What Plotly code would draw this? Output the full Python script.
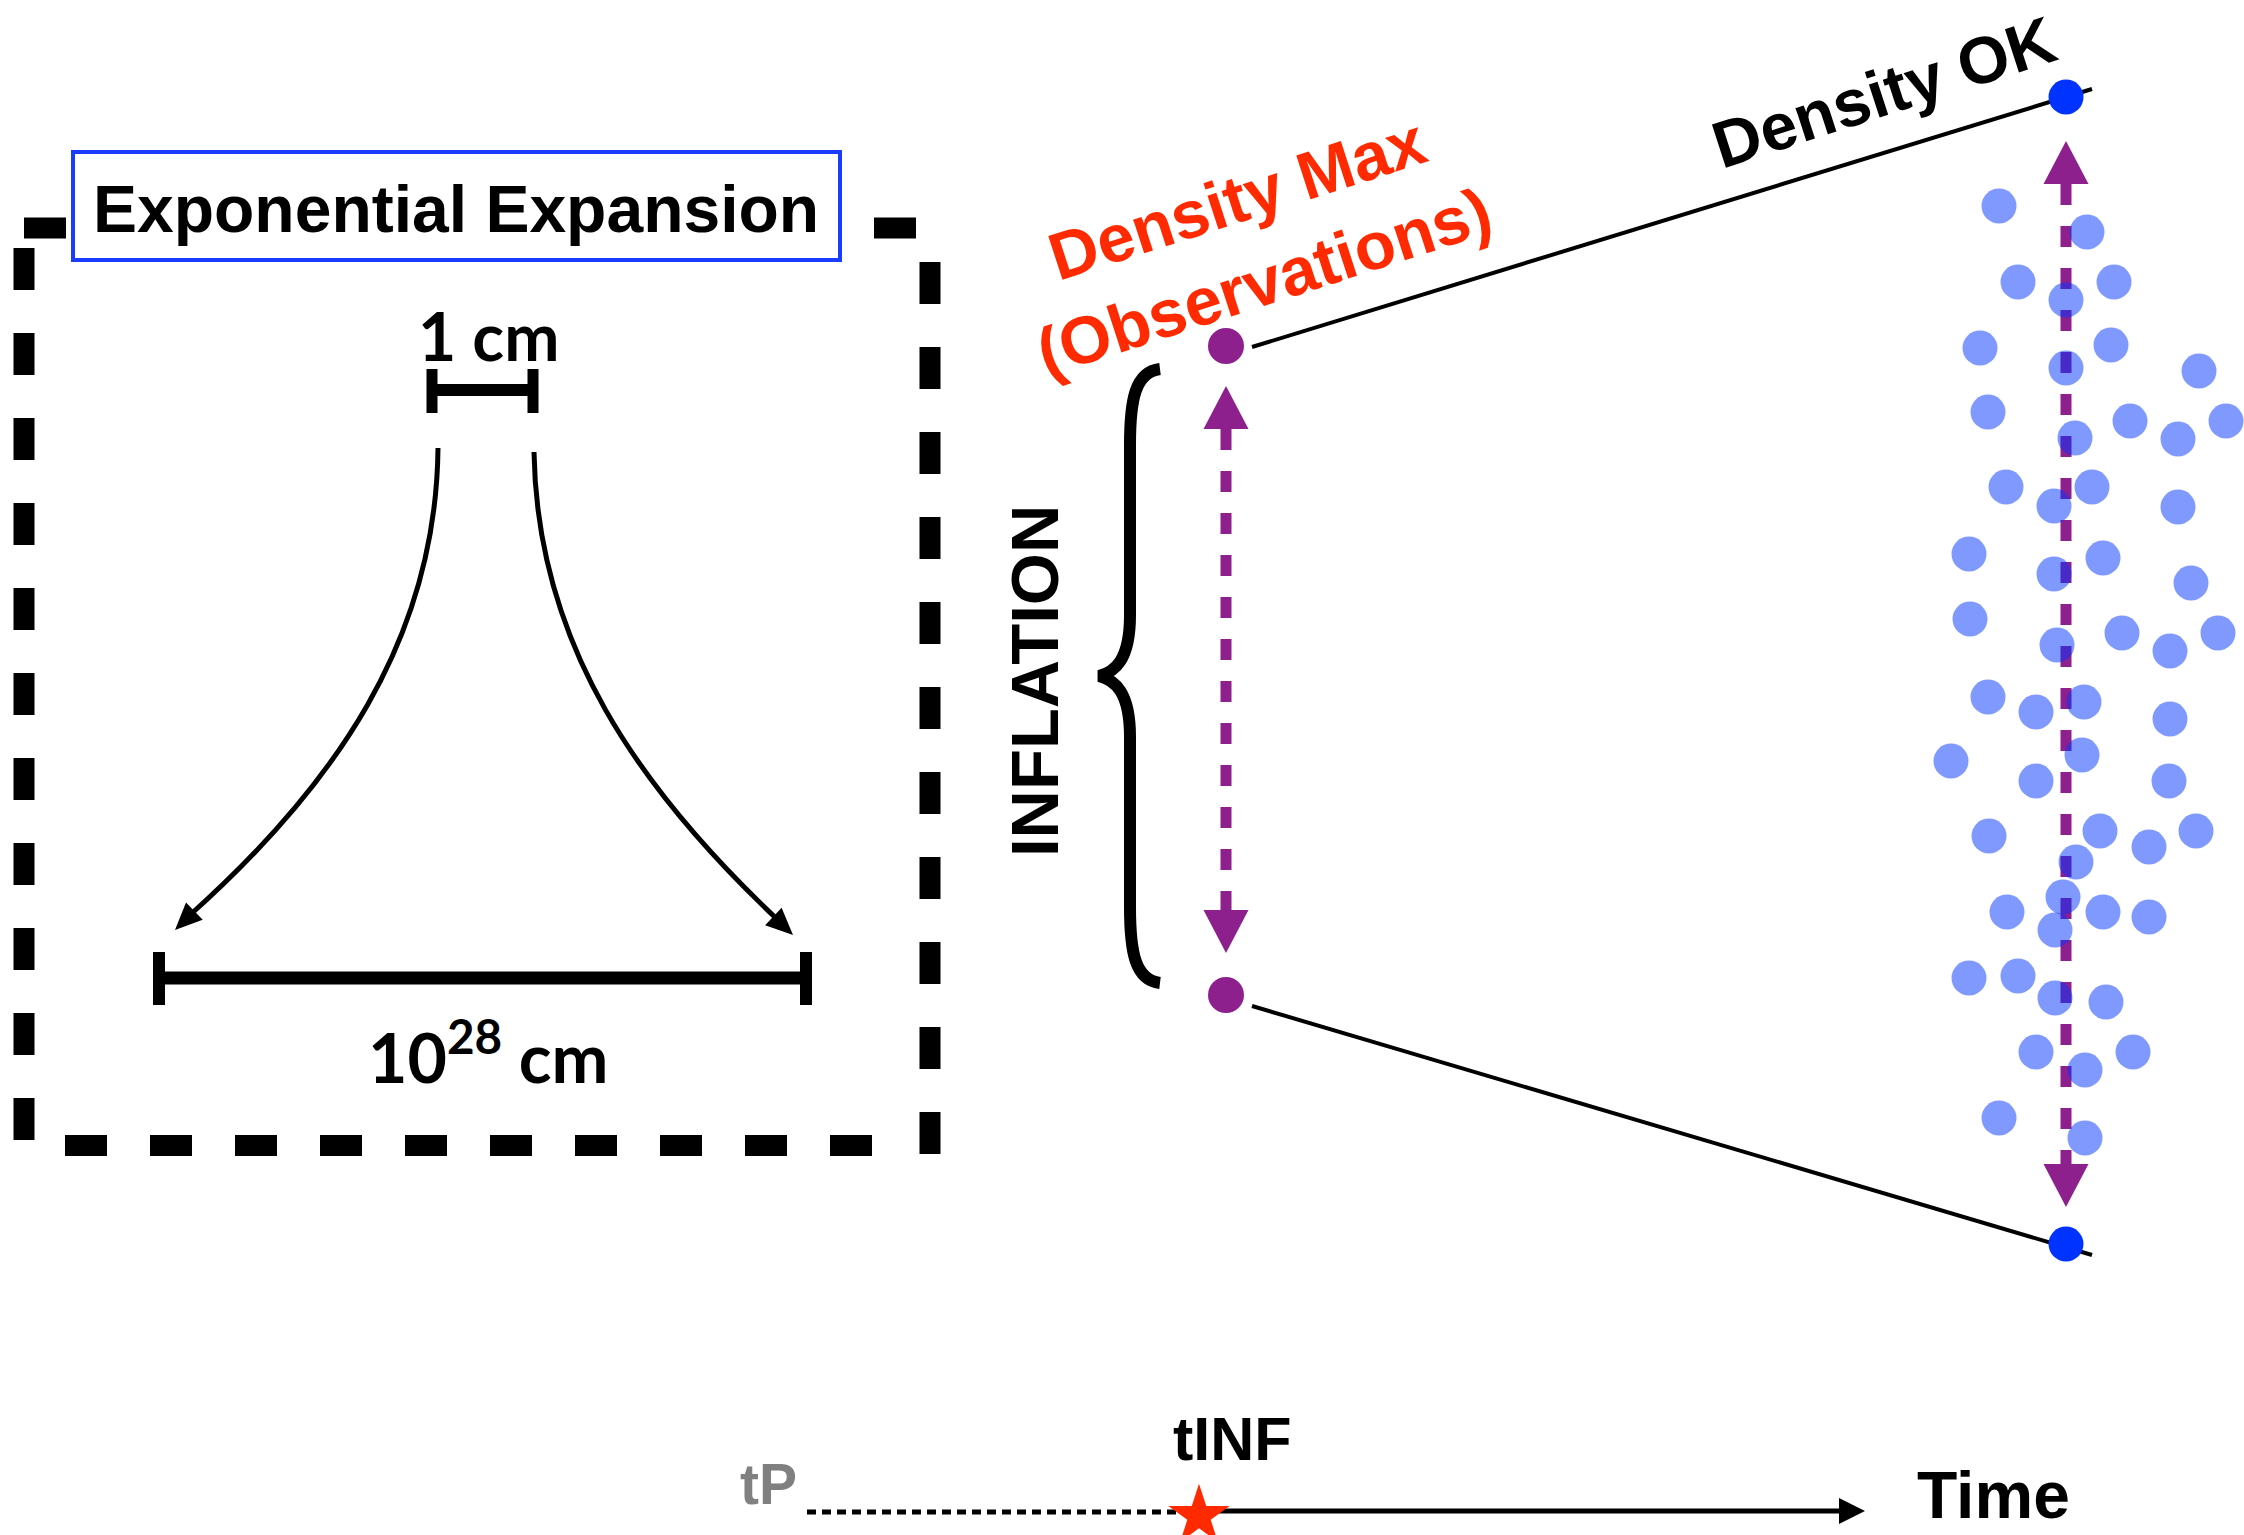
import plotly.graph_objects as go

W, H = 2244, 1535

# ---- data: light-blue cloud of "regions" (pixel-space diagram coordinates) ----
cloud_x = [1999, 2087, 2018, 2114, 2066, 1980, 2111, 2066, 2199, 1988,
           2130, 2075, 2178, 2226, 2006, 2092, 2054, 2178, 1969, 2103,
           2054, 2191, 1970, 2122, 2218, 2057, 2170, 1988, 2036, 2084,
           2170, 1951, 2082, 2036, 2169, 1989, 2100, 2149, 2196, 2076,
           2063, 2007, 2103, 2149, 2055, 1969, 2018, 2055, 2106, 2036,
           2133, 2085, 1999, 2085]
cloud_y = [206, 232, 282, 282, 300, 348, 345, 368, 371, 412,
           421, 438, 439, 421, 487, 487, 506, 507, 554, 558,
           574, 583, 619, 633, 633, 645, 651, 697, 712, 702,
           719, 761, 755, 781, 781, 836, 831, 847, 831, 862,
           897, 912, 912, 917, 930, 978, 976, 998, 1002, 1052,
           1052, 1070, 1118, 1138]

# density endpoints
obs_x = [1226, 1226]          # Density Max (observations) - purple
obs_y = [346, 995]
ok_x = [2066, 2066]           # Density OK - blue
ok_y = [97, 1244]

# cone lines
cone_top = [(1252, 347), (2092, 89)]
cone_bot = [(1252, 1006), (2092, 1255)]

# time axis
t_start, t_inf, t_end, t_y = 807, 1199, 1865, 1511

PURPLE = '#8e208e'
BLUE = '#0033ff'
RED = '#ff2a00'


def tri(tip, d, length, half):
    import math
    n = math.hypot(d[0], d[1])
    ux, uy = d[0] / n, d[1] / n
    bx, by = tip[0] - ux * length, tip[1] - uy * length
    px, py = -uy, ux
    return (f"M{tip[0]},{tip[1]} L{bx + px * half},{by + py * half} "
            f"L{bx - px * half},{by - py * half} Z")


shapes = []


def line(x0, y0, x1, y1, w, color='black', dash=None):
    ln = dict(color=color, width=w)
    if dash:
        ln['dash'] = dash
    shapes.append(dict(type='line', x0=x0, y0=y0, x1=x1, y1=y1,
                       xref='x', yref='y', line=ln, layer='below'))


def path(p, w=0, color='black', fill=None):
    d = dict(type='path', path=p, xref='x', yref='y', layer='below',
             line=dict(color=color, width=w))
    if fill:
        d['fillcolor'] = fill
    shapes.append(d)


# dashed box
BOXDASH = '42px,43px'
line(24, 228, 941, 228, 21, dash=BOXDASH)
line(24, 248, 24, 1150, 21, dash=BOXDASH)
line(930, 262, 930, 1157, 21, dash=BOXDASH)
line(65, 1145.5, 880, 1145.5, 21, dash=BOXDASH)

# blue title box
shapes.append(dict(type='rect', x0=73, y0=152, x1=840, y1=260, xref='x', yref='y',
                   line=dict(color='#1a3cff', width=4), fillcolor='white', layer='below'))

# 1 cm bar
line(432, 390, 533, 390, 12)
line(432, 369, 432, 413, 11)
line(533, 369, 533, 413, 11)

# 10^28 cm bar
line(159, 978, 806, 978, 13)
line(159, 952, 159, 1005, 12)
line(806, 952, 806, 1005, 12)

# curved arrows
path("M438,448 C436,640 335,785 190,915", w=5)
path("M534,452 C537,645 640,790 778,920", w=5)
path(tri((175, 930), (-0.72, 0.70), 27, 12), w=0, fill='black')
path(tri((793, 935), (0.73, 0.69), 27, 12), w=0, fill='black')

# brace
path("M1160,369 C1135,372 1130,400 1130,445 L1130,615 C1130,660 1115,672 1099,676 "
     "C1115,680 1130,692 1130,737 L1130,907 C1130,952 1135,980 1160,983", w=12)

# purple double arrows
PD = '21px,21px'
line(1226, 429, 1226, 910, 11, color=PURPLE, dash=PD)
path(tri((1226, 386), (0, -1), 43, 22.5), fill=PURPLE, color=PURPLE)
path(tri((1226, 953), (0, 1), 43, 22.5), fill=PURPLE, color=PURPLE)
line(2066, 184, 2066, 1164, 11, color=PURPLE, dash=PD)
path(tri((2066, 141), (0, -1), 43, 22.5), fill=PURPLE, color=PURPLE)
path(tri((2066, 1207), (0, 1), 43, 22.5), fill=PURPLE, color=PURPLE)

# cone lines
line(*cone_top[0], *cone_top[1], 4)
line(*cone_bot[0], *cone_bot[1], 4)

# time axis
line(t_start, t_y + 1, t_inf, t_y + 1, 5, dash='9px,6px')
line(t_inf, t_y, t_end - 22, t_y, 5)
path(tri((t_end, t_y), (1, 0), 26, 13), fill='black')

fig = go.Figure()
fig.add_trace(go.Scatter(x=cloud_x, y=cloud_y, mode='markers',
                         marker=dict(size=35, color='rgba(0,51,255,0.5)', line=dict(width=0)),
                         hoverinfo='skip', showlegend=False))
fig.add_trace(go.Scatter(x=obs_x, y=obs_y, mode='markers',
                         marker=dict(size=36, color=PURPLE, line=dict(width=0)),
                         hoverinfo='skip', showlegend=False))
fig.add_trace(go.Scatter(x=ok_x, y=ok_y, mode='markers',
                         marker=dict(size=35, color=BLUE, line=dict(width=0)),
                         hoverinfo='skip', showlegend=False))
fig.add_trace(go.Scatter(x=[t_inf], y=[t_y + 5], mode='markers',
                         marker=dict(size=46, symbol='star', color=RED, line=dict(width=0)),
                         hoverinfo='skip', showlegend=False))

ARIAL = 'Liberation Sans, Arial, sans-serif'
GILL = 'Lato, sans-serif'


def ann(text, x, y, size, family=ARIAL, color='black', angle=0):
    return dict(text=text, x=x, y=y, xref='x', yref='y', showarrow=False,
                xanchor='center', yanchor='middle', textangle=angle,
                font=dict(family=family, size=size, color=color))


annotations = [
    ann('<b>Exponential Expansion</b>', 456, 209, 66),
    ann('<b>1 cm</b>', 488, 335, 66, family=GILL),
    ann('<b>10<sup>28</sup> cm</b>', 488, 1052, 68, family=GILL),
    ann('<b>Density Max<br>(Observations)</b>', 1250, 240, 67, color=RED, angle=-18),
    ann('<b>Density OK</b>', 1884, 92, 66, angle=-18),
    ann('<b>INFLATION</b>', 1034, 681, 67, angle=-90),
    ann('<b>tP</b>', 768, 1484, 57, color='#808080'),
    ann('<b>tINF</b>', 1232, 1439, 61),
    ann('<b>Time</b>', 1993, 1495, 66),
]

fig.update_layout(
    width=W, height=H,
    margin=dict(l=0, r=0, t=0, b=0),
    paper_bgcolor='white', plot_bgcolor='white',
    xaxis=dict(range=[0, W], visible=False, fixedrange=True),
    yaxis=dict(range=[H, 0], visible=False, fixedrange=True),
    shapes=shapes, annotations=annotations, showlegend=False,
)

fig.write_html("out.html", config={'displayModeBar': False},
               post_script="document.body.style.margin='0';document.body.style.overflow='hidden';")
